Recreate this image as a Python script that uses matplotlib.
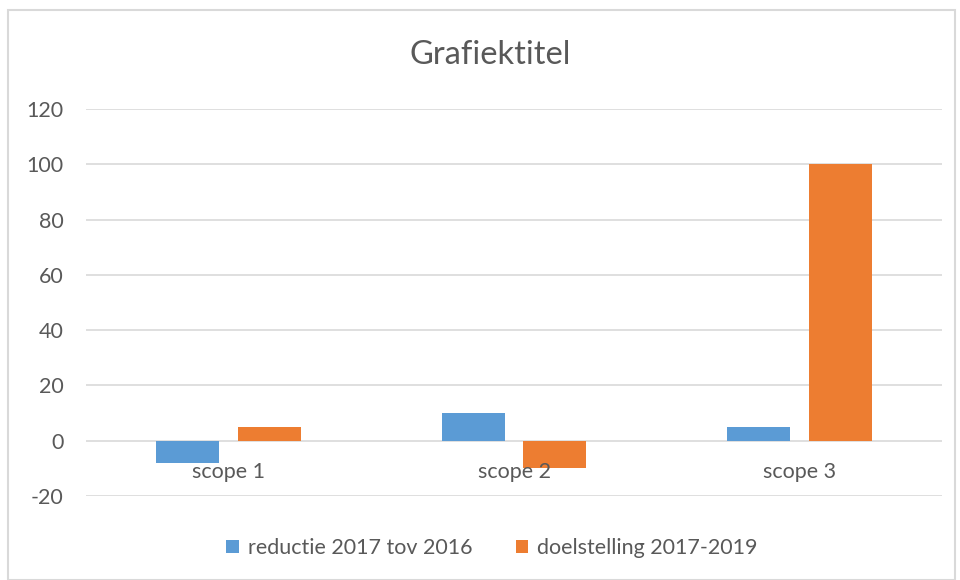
import matplotlib
matplotlib.use("Agg")
import matplotlib.pyplot as plt
import numpy as np
from matplotlib.patches import Rectangle

categories = ["scope 1", "scope 2", "scope 3"]
series_names = ["reductie 2017 tov 2016", "doelstelling 2017-2019"]
reductie = [-8, 10, 5]
doelstelling = [5, -10, 100]
yticks = [-20, 0, 20, 40, 60, 80, 100, 120]
title = "Grafiektitel"

plt.rcParams['font.family'] = ['Lato', 'DejaVu Sans']
text_color = "#595959"
grid_color = "#d9d9d9"
blue = "#5B9BD5"
orange = "#ED7D31"
fs = 15.5

fig = plt.figure(figsize=(9.6, 5.8), dpi=100)
ax = fig.add_axes([86/960, 1-496/580, (942-86)/960, (496-109)/580])

x = np.arange(len(categories))
w = 0.22
off = 0.143
ax.bar(x - off, reductie, width=w, color=blue, label=series_names[0], zorder=3)
ax.bar(x + off, doelstelling, width=w, color=orange, label=series_names[1], zorder=3)

ax.set_xlim(-0.5, len(categories) - 0.5)
ax.set_ylim(yticks[0], yticks[-1])
ax.set_yticks(yticks)
ax.set_yticklabels([str(t) for t in yticks])
ax.tick_params(axis='y', length=0, pad=16, labelsize=fs, labelcolor=text_color)
ax.set_xticks([])
for s in ax.spines.values():
    s.set_visible(False)
ax.grid(axis='y', color=grid_color, linewidth=1.2, zorder=0)

for i, c in enumerate(categories):
    ax.annotate(c, xy=(i, 0), xytext=(0, -22.5), textcoords='offset points',
                ha='center', va='center', fontsize=fs, color=text_color, zorder=4)

fig.text(490/960, 1-55/580, title, ha='center', va='center', fontsize=23.5, color=text_color)

leg = fig.legend(loc='center', bbox_to_anchor=(492/960, 1-548/580), ncol=2, frameon=False,
                 fontsize=fs, handlelength=0.6, handleheight=0.6, handletextpad=0.4,
                 columnspacing=2.0, labelcolor=text_color)

fig.patches.append(Rectangle((8/960, 0), (955-8)/960, 1-10/580, transform=fig.transFigure,
                             fill=False, edgecolor=grid_color, linewidth=1.5))

fig.savefig("out.png", dpi=100)
